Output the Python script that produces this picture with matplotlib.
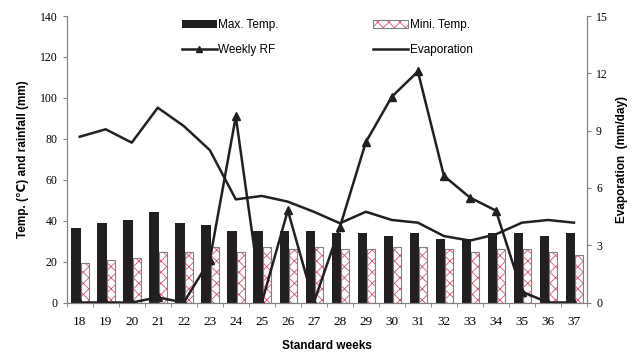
import numpy as np
import matplotlib.pyplot as plt
from matplotlib.patches import Patch
from matplotlib.legend_handler import HandlerTuple

# data
weeks = [18, 19, 20, 21, 22, 23, 24, 25, 26, 27, 28, 29, 30, 31, 32, 33, 34, 35, 36, 37]
max_temp = [36.3, 38.7, 40.3, 44.1, 38.7, 37.9, 34.8, 34.8, 34.8, 34.8,
            34.1, 34.1, 32.5, 34.1, 31.0, 31.0, 34.1, 34.1, 32.5, 34.1]
min_temp = [19.3, 20.8, 21.9, 24.5, 24.5, 27.3, 24.5, 27.3, 26.0, 27.3,
            26.0, 26.0, 27.3, 27.3, 26.0, 24.7, 26.0, 26.0, 24.7, 23.2]
weekly_rf = [0, 0, 0, 2.5, 0, 20.8, 90.9, 0, 45.0, 0,
             36.8, 78.4, 100.6, 112.9, 61.9, 51.3, 44.9, 5.3, 0, 0]
evaporation = [8.68, 9.07, 8.37, 10.2, 9.24, 7.98, 5.4, 5.58, 5.28, 4.75,
               4.15, 4.75, 4.32, 4.18, 3.48, 3.24, 3.57, 4.18, 4.32, 4.18]

serif = 'Liberation Serif'
sans = ['Liberation Sans', 'DejaVu Sans']
grey = '#808080'
plt.rcParams['hatch.linewidth'] = 0.6

x = np.array(weeks)

fig = plt.figure(figsize=(6.33, 3.52), dpi=100)
ax = fig.add_axes([0.1054, 0.1406, 0.8219, 0.8139])
ax2 = ax.twinx()

# bars
ax.bar(x - 0.145, max_temp, width=0.35, color='#231f20', zorder=2)
ax.bar(x + 0.19, min_temp, width=0.3, color='white', edgecolor='#d9536b',
       hatch='xxx', linewidth=0, zorder=2)
ax.bar(x + 0.19, min_temp, width=0.3, fill=False, edgecolor=grey,
       linewidth=0.8, zorder=2)

# rainfall line
ax.plot(x, weekly_rf, color='#231f20', lw=1.8, marker='^', markersize=6, zorder=3)

# evaporation line (right axis)
ax2.plot(x, evaporation, color='#231f20', lw=1.8)

ax.set_xlim(17.5, 37.5)
ax.set_ylim(0, 140)
ax2.set_ylim(0, 15)
ax.set_yticks(range(0, 141, 20))
ax2.set_yticks(range(0, 16, 3))
ax.set_xticks(weeks)
ax.set_xticks(np.arange(17.5, 37.6, 1), minor=True)

for a in (ax, ax2):
    a.spines['top'].set_visible(False)
    for s in ('left', 'right', 'bottom'):
        a.spines[s].set_color(grey)
        a.spines[s].set_linewidth(0.8)

ax.tick_params(axis='x', which='major', length=0, pad=10, labelsize=9.5)
ax.tick_params(axis='x', which='minor', length=3, color=grey)
ax.tick_params(axis='y', length=3, color=grey, labelsize=8.5)
ax2.tick_params(axis='y', length=3, color=grey, labelsize=8.5)
for lab in ax.get_xticklabels() + ax.get_yticklabels() + ax2.get_yticklabels():
    lab.set_fontfamily(serif)

ax.set_xlabel('Standard weeks', family=sans, fontweight='bold', fontsize=8.5, labelpad=8)
ax.set_ylabel('Temp. (\u2103) and rainfall (mm)', family=sans, fontweight='bold',
              fontsize=8.5, labelpad=8)
ax2.set_ylabel('Evaporation  (mm/day)', family=sans, fontweight='bold',
               fontsize=8.5, labelpad=6)

# legend
h_max = Patch(facecolor='#231f20')
h_min = Patch(facecolor='white', edgecolor='#d9536b', hatch='xxx', linewidth=0)
h_min_edge = Patch(fill=False, edgecolor=grey, linewidth=0.8)
h_rf = plt.Line2D([], [], color='#231f20', lw=1.8, marker='^', markersize=5)
h_ev = plt.Line2D([], [], color='#231f20', lw=1.8)
fig.legend([h_max, h_rf, (h_min, h_min_edge), h_ev],
           ['Max. Temp.', 'Weekly RF', 'Mini. Temp.', 'Evaporation'],
           ncol=2, frameon=False, loc='upper left', bbox_to_anchor=(0.27, 0.975),
           prop={'family': sans, 'size': 8.5}, handlelength=3, handletextpad=0.1,
           columnspacing=8, labelspacing=1.1,
           handler_map={tuple: HandlerTuple(ndivide=1, pad=0)})

fig.savefig('out.png', dpi=100)
